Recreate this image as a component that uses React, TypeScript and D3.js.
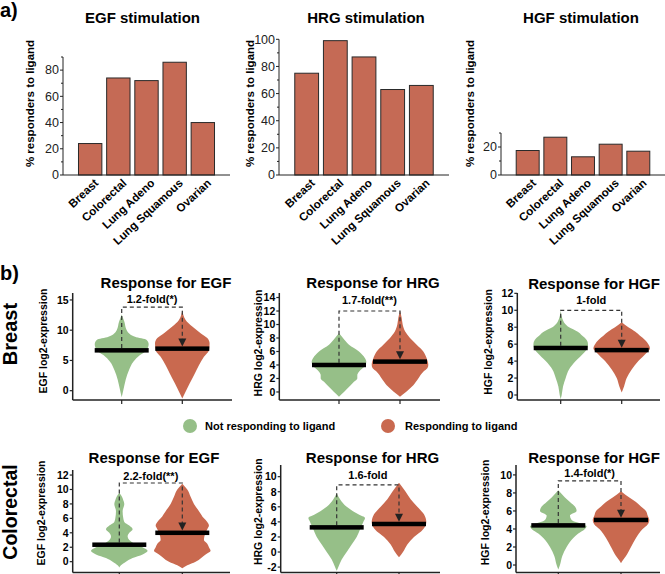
import React from "react";
import * as d3 from "d3";

// ---------------- Panel a data ----------------
const cancerTypes = ["Breast", "Colorectal", "Lung Adeno", "Lung Squamous", "Ovarian"];
const egfResponders = [24, 74, 72, 86, 40];
const hrgResponders = [75, 99, 87, 63, 66];
const hgfResponders = [17.5, 27, 13, 22, 17];
const stimulationTitles = ["EGF stimulation", "HRG stimulation", "HGF stimulation"];
const egfBarTicks = [0, 20, 40, 60, 80];
const hrgBarTicks = [0, 20, 40, 60, 80, 100];
const hgfBarTicks = [0, 20];
const egfBarMinorTicks = [10, 30, 50, 70, 90];
const hrgBarMinorTicks = [10, 30, 50, 70, 90];
const hgfBarMinorTicks = [10, 30];
const barAxisMax = [90, 100, 30];

// ---------------- Panel b data ----------------
const groups = ["Not responding to ligand", "Responding to ligand"];
const tissues = ["Breast", "Colorectal"];
const ligands = ["EGF", "HRG", "HGF"];

// violin profiles: [log2 expression, relative density]
const breastEGFNot: [number, number][] = [[12.6, 0], [11.4, 8], [10, 15], [8.9, 40], [8.4, 75], [7.7, 81], [6.7, 75], [5.9, 55], [4.8, 35], [3.4, 22], [1.8, 12], [0.1, 5], [-1.1, 0]];
const breastEGFResp: [number, number][] = [[13.3, 0], [11.7, 10], [10.6, 30], [9.5, 55], [8.7, 75], [7.8, 82], [6.7, 80], [5.6, 65], [4.2, 50], [2.9, 38], [1.2, 22], [-0.4, 8], [-1.3, 0]];
const breastHRGNot: [number, number][] = [[8.7, 0], [8, 12], [7, 30], [6, 60], [5, 78], [4.5, 82], [4, 80], [3, 60], [2.5, 55], [2, 55], [1.5, 45], [1, 35], [0, 15], [-0.7, 0]];
const breastHRGResp: [number, number][] = [[12, 0], [11, 5], [10, 8], [9, 15], [8, 30], [7, 50], [6, 70], [5, 80], [4, 85], [3.5, 82], [3, 70], [2, 55], [1, 40], [0, 18], [-0.7, 0]];
const breastHGFNot: [number, number][] = [[10, 0], [9, 5], [8, 25], [7.5, 50], [7, 65], [6.5, 78], [6, 82], [5.5, 80], [5, 70], [4, 45], [3, 25], [2, 15], [1, 7], [0, 3], [-0.5, 0]];
const breastHGFResp: [number, number][] = [[8.6, 0], [8, 20], [7.5, 40], [7, 55], [6.5, 70], [6, 80], [5.5, 85], [5, 75], [4, 50], [3, 30], [2, 15], [1, 7], [0.3, 0]];
const colorectalEGFNot: [number, number][] = [[9.5, 0], [9, 8], [8.5, 12], [8, 15], [7, 10], [6, 12], [5.5, 15], [5, 30], [4.5, 40], [4, 30], [3.5, 25], [3, 30], [2.5, 45], [2, 70], [1.5, 85], [1, 70], [0.5, 40], [0, 20], [-0.5, 5], [-0.8, 0]];
const colorectalEGFResp: [number, number][] = [[10.8, 0], [10, 15], [9, 25], [8, 35], [7, 50], [6, 65], [5.5, 75], [5, 80], [4.5, 75], [4, 70], [3, 65], [2.5, 75], [2, 80], [1.5, 85], [1, 70], [0, 40], [-0.5, 15], [-0.9, 0]];
const colorectalHRGNot: [number, number][] = [[7.8, 0], [7, 10], [6, 30], [5, 65], [4.5, 85], [4, 80], [3, 70], [2, 60], [1, 45], [0, 30], [-1, 15], [-2, 5], [-2.5, 0]];
const colorectalHRGResp: [number, number][] = [[9.2, 0], [8, 20], [7, 35], [6, 55], [5, 75], [4.5, 80], [4, 82], [3, 72], [2, 45], [1, 25], [0, 12], [-0.7, 0]];
const colorectalHGFNot: [number, number][] = [[8.3, 0], [7.5, 20], [7, 35], [6.5, 50], [6, 55], [5.5, 35], [5, 40], [4.5, 75], [4.3, 85], [4, 80], [3.5, 60], [3, 45], [2, 25], [1, 12], [0, 5], [-0.5, 0]];
const colorectalHGFResp: [number, number][] = [[8.2, 0], [7.5, 25], [7, 45], [6.5, 60], [6, 75], [5.5, 80], [5, 85], [4.5, 80], [4, 65], [3, 45], [2, 30], [1, 15], [0.5, 5], [0.2, 0]];

const breastMedians = [[6.67, 6.95], [4.0, 4.5], [5.55, 5.3]];
const colorectalMedians = [[2.35, 4.0], [3.27, 3.72], [4.4, 5.0]];
const breastBracketTop = [13.8, 12, 10];
const colorectalBracketTop = [10.9, 8.9, 9.33];
const breastFold = ["1.2-fold(*)", "1.7-fold(**)", "1-fold"];
const colorectalFold = ["2.2-fold(**)", "1.6-fold", "1.4-fold(*)"];
const breastTicks = [[0, 5, 10, 15], [0, 2, 4, 6, 8, 10, 12, 14], [0, 2, 4, 6, 8, 10, 12]];
const colorectalTicks = [[0, 2, 4, 6, 8, 10, 12], [-2, 0, 2, 4, 6, 8, 10], [0, 2, 4, 6, 8, 10]];

// ---------------- Styles / layout ----------------
const FONT = "'Liberation Sans', Arial, Helvetica, sans-serif";
const BAR_FILL = "#c56a55";
const GREEN = "#96bf88";
const RED = "#c9694f";
const AXIS = "#222";

const barLayout = [
  { axisX: 63, axisEnd: 230, yTop: 57, titleX: 142.5, ylabelX: 30 },
  { axisX: 279, axisEnd: 449, yTop: 39.3, titleX: 366, ylabelX: 250 },
  { axisX: 501, axisEnd: 665, yTop: 133, titleX: 581, ylabelX: 470 },
];
const BAR_Y0 = 175;

const violinLayout = [
  [
    { axisX: 72.7, axisEnd: 232, c: [121.7, 182.3], yb: 400, yt: 293, dom: [-1.54, 16.15], titleX: 166, ylabelX: 43.3, ylabelY: 341, foldY: 303, titleY: 288 },
    { axisX: 279.3, axisEnd: 440, c: [339, 400], yb: 400, yt: 293, dom: [-1.19, 14.67], titleX: 373, ylabelX: 258, ylabelY: 343, foldY: 304, titleY: 288 },
    { axisX: 517.3, axisEnd: 660, c: [560.7, 621.7], yb: 400, yt: 293, dom: [-0.59, 12.04], titleX: 594, ylabelX: 488, ylabelY: 342, foldY: 304, titleY: 289 },
  ],
  [
    { axisX: 72.7, axisEnd: 230, c: [119.3, 182.3], yb: 572.5, yt: 470, dom: [-1.5, 12.7], titleX: 154, ylabelX: 41.7, ylabelY: 513, foldY: 480, titleY: 463 },
    { axisX: 280.7, axisEnd: 440, c: [336.7, 399], yb: 572.5, yt: 465, dom: [-2.72, 11.55], titleX: 372.5, ylabelX: 258, ylabelY: 511.7, foldY: 479, titleY: 463 },
    { axisX: 516, axisEnd: 660, c: [558.3, 621], yb: 572.5, yt: 465, dom: [-0.83, 11.1], titleX: 594, ylabelX: 485, ylabelY: 512.5, foldY: 477, titleY: 463 },
  ],
];

const widthScale = d3.scaleLinear().domain([0, 85]).range([0, 28.3]);

function BarPanel({ idx }: { idx: number }) {
  const L = barLayout[idx];
  const values = [egfResponders, hrgResponders, hgfResponders][idx];
  const ticks = [egfBarTicks, hrgBarTicks, hgfBarTicks][idx];
  const minor = [egfBarMinorTicks, hrgBarMinorTicks, hgfBarMinorTicks][idx];
  const x = d3.scaleBand<string>().domain(cancerTypes).range([L.axisX, L.axisEnd]).paddingInner(0.17).paddingOuter(0.55);
  const y = d3.scaleLinear().domain([0, barAxisMax[idx]]).range([BAR_Y0, L.yTop]);
  return (
    <g>
      <text x={L.titleX} y={23} textAnchor="middle" fontSize={15} fontWeight="bold">{stimulationTitles[idx]}</text>
      {cancerTypes.map((c, i) => (
        <rect key={c} x={x(c)} y={y(values[i])} width={x.bandwidth()} height={y(0) - y(values[i])} fill={BAR_FILL} stroke="#2a2a2a" strokeWidth={1} />
      ))}
      <line x1={L.axisX} x2={L.axisX} y1={y(0)} y2={y(barAxisMax[idx])} stroke={AXIS} strokeWidth={1} />
      <line x1={L.axisX} x2={L.axisEnd} y1={y(0)} y2={y(0)} stroke={AXIS} strokeWidth={1} />
      {ticks.map((t) => (
        <g key={t}>
          <line x1={L.axisX - 3} x2={L.axisX} y1={y(t)} y2={y(t)} stroke={AXIS} />
          <text x={L.axisX - 4} y={y(t)} dy="0.35em" textAnchor="end" fontSize={12.5} fill="#222">{t}</text>
        </g>
      ))}
      {minor.map((t) => (
        <line key={t} x1={L.axisX - 2} x2={L.axisX} y1={y(t)} y2={y(t)} stroke={AXIS} />
      ))}
      {cancerTypes.map((c) => {
        const cx = (x(c) as number) + x.bandwidth() / 2;
        return (
          <g key={c} transform={`translate(${cx + 9},${BAR_Y0 + 9}) rotate(-43)`}>
            <text x={0} y={0} textAnchor="end" fontSize={11.5} fontWeight="bold">{c}</text>
          </g>
        );
      })}
      <text transform={`translate(${L.ylabelX},103.5) rotate(-90)`} textAnchor="middle" dy="0.35em" fontSize={11.5} fontWeight="bold">% responders to ligand</text>
    </g>
  );
}

function ViolinPanel({ row, col }: { row: number; col: number }) {
  const L = violinLayout[row][col];
  const profiles = [
    [[breastEGFNot, breastEGFResp], [breastHRGNot, breastHRGResp], [breastHGFNot, breastHGFResp]],
    [[colorectalEGFNot, colorectalEGFResp], [colorectalHRGNot, colorectalHRGResp], [colorectalHGFNot, colorectalHGFResp]],
  ][row][col];
  const medians = [breastMedians, colorectalMedians][row][col];
  const top = [breastBracketTop, colorectalBracketTop][row][col];
  const fold = [breastFold, colorectalFold][row][col];
  const ticks = [breastTicks, colorectalTicks][row][col];
  const y = d3.scaleLinear().domain(L.dom).range([L.yb, L.yt]);
  const x = d3.scalePoint<string>().domain(groups).range(L.c as [number, number]);
  const colors = [GREEN, RED];
  const c0 = x(groups[0]) as number;
  const c1 = x(groups[1]) as number;
  const barH = 4.5;
  const arrowTip = y(medians[1]) - barH / 2;
  return (
    <g>
      <text x={L.titleX} y={L.titleY} textAnchor="middle" fontSize={15} fontWeight="bold">{`Response for ${ligands[col]}`}</text>
      {groups.map((g, i) => {
        const cx = x(g) as number;
        const area = d3.area<[number, number]>()
          .x0((d) => cx - widthScale(d[1]))
          .x1((d) => cx + widthScale(d[1]))
          .y((d) => y(d[0]))
          .curve(d3.curveMonotoneY);
        return <path key={g} d={area(profiles[i]) as string} fill={colors[i]} stroke="none" />;
      })}
      <path d={`M${c0},${y(medians[0]) - barH / 2}V${y(top)}H${c1}V${arrowTip - 6}`} fill="none" stroke="#333" strokeWidth={1.2} strokeDasharray="4,3" />
      <path d={`M${c1 - 4},${arrowTip - 8}L${c1 + 4},${arrowTip - 8}L${c1},${arrowTip}Z`} fill="#222" />
      {groups.map((g, i) => (
        <rect key={g} x={(x(g) as number) - 27} y={y(medians[i]) - barH / 2} width={54} height={barH} fill="#000" />
      ))}
      <text x={(c0 + c1) / 2} y={L.foldY} textAnchor="middle" fontSize={11} fontWeight="bold">{fold}</text>
      <line x1={L.axisX} x2={L.axisX} y1={L.yb} y2={L.yt} stroke={AXIS} strokeWidth={1.5} />
      <line x1={L.axisX} x2={L.axisEnd} y1={L.yb} y2={L.yb} stroke={AXIS} strokeWidth={1.5} />
      {ticks.map((t) => (
        <g key={t}>
          <line x1={L.axisX - 3} x2={L.axisX} y1={y(t)} y2={y(t)} stroke={AXIS} strokeWidth={1.2} />
          <text x={L.axisX - 4} y={y(t)} dy="0.36em" textAnchor="end" fontSize={10.5} fontWeight="bold">{t}</text>
        </g>
      ))}
      {groups.map((g) => (
        <line key={g} x1={x(g)} x2={x(g)} y1={L.yb} y2={L.yb + 4} stroke={AXIS} strokeWidth={1.2} />
      ))}
      <text transform={`translate(${L.ylabelX},${L.ylabelY}) rotate(-90)`} textAnchor="middle" dy="0.35em" fontSize={10.5} fontWeight="bold">{`${ligands[col]} log2-expression`}</text>
    </g>
  );
}

export default function App() {
  return (
    <svg width={665} height={574} style={{ position: "absolute", left: 0, top: 0, background: "#fff" }} fontFamily={FONT}>
      <rect width={665} height={574} fill="#fff" />
      <text x={0} y={17} fontSize={20} fontWeight="bold">a)</text>
      <text x={0} y={280} fontSize={20} fontWeight="bold">b)</text>
      {[0, 1, 2].map((i) => <BarPanel key={i} idx={i} />)}
      {[0, 1].map((r) => [0, 1, 2].map((c) => <ViolinPanel key={`${r}-${c}`} row={r} col={c} />))}
      <text transform="translate(17,334) rotate(-90)" textAnchor="middle" fontSize={20} fontWeight="bold">{tissues[0]}</text>
      <text transform="translate(17,512) rotate(-90)" textAnchor="middle" fontSize={19.5} fontWeight="bold">{tissues[1]}</text>
      <circle cx={190} cy={426} r={7} fill={GREEN} />
      <text x={205} y={426} dy="0.35em" fontSize={11} fontWeight="bold">{groups[0]}</text>
      <circle cx={388} cy={426} r={7} fill={RED} />
      <text x={405} y={426} dy="0.35em" fontSize={11} fontWeight="bold">{groups[1]}</text>
    </svg>
  );
}
